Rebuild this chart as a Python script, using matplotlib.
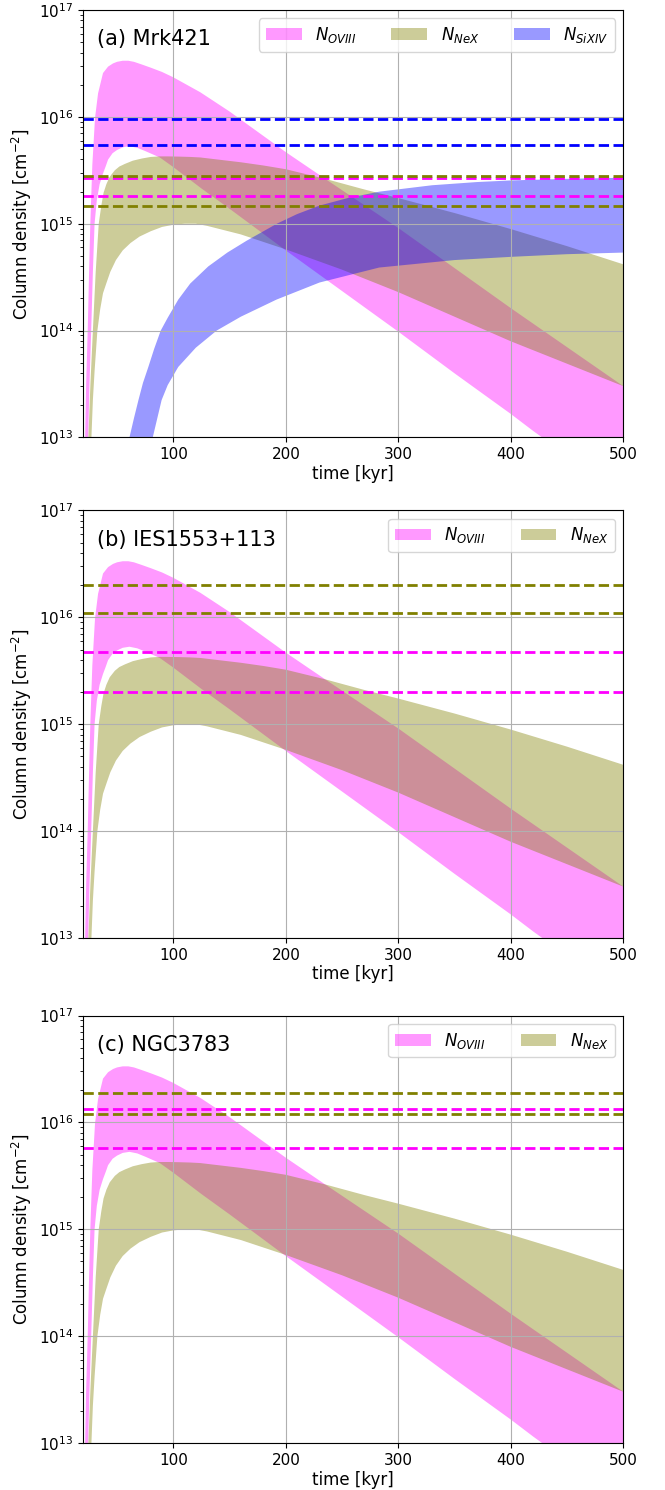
import numpy as np
import matplotlib
matplotlib.use('Agg')
import matplotlib.pyplot as plt

# band edges (time in kyr, log10 column density)
ov_hi_t = [21.0, 21.6, 22.5, 23.9, 25.0, 26.2, 28.0, 30.4, 33.1, 37.5, 42, 46.4, 50, 55,
           60, 65, 72, 80, 90, 100, 112, 124, 137, 150, 175, 200, 235, 300, 400, 500]
ov_hi = [12.9, 13.0, 13.5, 14.0, 14.5, 15.0, 15.55, 15.99, 16.22, 16.41, 16.47, 16.5,
         16.515, 16.525, 16.525, 16.515, 16.49, 16.46, 16.42, 16.37, 16.30, 16.23, 16.14,
         16.05, 15.86, 15.67, 15.42, 14.96, 14.21, 13.48]
ov_lo_t = [24.0, 24.3, 25.5, 27.0, 28.5, 30.0, 32.0, 34.5, 37.5, 40.0, 42.0, 46.0, 50.0,
           55.0, 61.0, 68.0, 75.0, 88.0, 100, 125, 150, 200, 250, 300, 350, 400, 420, 500]
ov_lo = [12.9, 13.0, 13.5, 14.0, 14.55, 15.0, 15.22, 15.37, 15.47, 15.54, 15.6, 15.66,
         15.69, 15.715, 15.725, 15.71, 15.68, 15.62, 15.53, 15.33, 15.14, 14.75, 14.37,
         13.99, 13.6, 13.22, 13.06, 12.45]

ne_hi_t = [24.2, 24.5, 26.3, 28.5, 31.0, 33.7, 36.0, 38.0, 40.5, 43.5, 48, 52, 57, 64,
           72, 80, 88, 95, 105, 115, 124, 140, 160, 180, 200, 235, 270, 300, 350, 400,
           450, 500]
ne_hi = [12.9, 13.0, 13.5, 14.0, 14.55, 15.0, 15.17, 15.29, 15.37, 15.44, 15.5, 15.535,
         15.56, 15.59, 15.61, 15.625, 15.63, 15.63, 15.628, 15.625, 15.62, 15.60, 15.575,
         15.545, 15.51, 15.42, 15.32, 15.24, 15.1, 14.95, 14.79, 14.62]
ne_lo_t = [26.8, 27.2, 28.5, 30.0, 32.5, 35.0, 37.5, 40.7, 44, 49, 55, 62, 70, 80, 90,
           100, 110, 120, 130, 145, 160, 180, 200, 250, 300, 350, 400, 450, 500]
ne_lo = [12.9, 13.0, 13.35, 13.62, 14.0, 14.2, 14.35, 14.45, 14.55, 14.66, 14.75, 14.82,
         14.88, 14.93, 14.97, 14.99, 15.0, 15.0, 14.98, 14.94, 14.9, 14.83, 14.76, 14.57,
         14.36, 14.13, 13.9, 13.69, 13.48]

si_hi_t = [60.5, 61, 65, 69, 73, 77.8, 83, 88.8, 95, 104.4, 115, 131, 148, 165, 192,
           210, 230, 255, 283, 330, 370, 400, 450, 500]
si_hi = [12.95, 13.0, 13.18, 13.35, 13.51, 13.66, 13.83, 14.0, 14.12, 14.29, 14.44,
         14.6, 14.73, 14.84, 15.0, 15.09, 15.17, 15.24, 15.30, 15.36, 15.39, 15.405,
         15.42, 15.43]
si_lo_t = [81.0, 81.7, 89.6, 95, 104.4, 120, 138.5, 160, 191.7, 230, 283, 350, 400,
           450, 500]
si_lo = [12.95, 13.0, 13.35, 13.49, 13.66, 13.84, 14.0, 14.13, 14.29, 14.45, 14.59,
         14.66, 14.69, 14.715, 14.73]

# observed column density ranges (dashed lines)
titles = ['(a) Mrk421', '(b) IES1553+113', '(c) NGC3783']
obs_ov = [[2.7e15, 1.8e15], [4.7e15, 2.0e15], [1.35e16, 5.75e15]]
obs_ne = [[2.8e15, 1.46e15], [2.0e16, 1.1e16], [1.88e16, 1.2e16]]
obs_si = [[9.5e15, 5.45e15], None, None]


def band(ax, t_hi, hi, t_lo, lo, color, label):
    x = np.concatenate([t_hi, t_lo[::-1]])
    y = 10 ** np.concatenate([hi, lo[::-1]])
    ax.fill(x, y, color=color, alpha=0.4, lw=0, label=label)


fig = plt.figure(figsize=(6.65, 14.9), dpi=100)
bottoms = [0.7064, 0.3705, 0.0315]
for i in range(3):
    ax = fig.add_axes([0.1253, bottoms[i], 0.812, 0.2869])
    band(ax, ov_hi_t, ov_hi, ov_lo_t, ov_lo, 'magenta', r'$N_{OVIII}$')
    for v in obs_ov[i]:
        ax.axhline(v, color='magenta', ls='--', lw=2)
    band(ax, ne_hi_t, ne_hi, ne_lo_t, ne_lo, 'olive', r'$N_{NeX}$')
    for v in obs_ne[i]:
        ax.axhline(v, color='olive', ls='--', lw=2)
    if obs_si[i] is not None:
        band(ax, si_hi_t, si_hi, si_lo_t, si_lo, 'blue', r'$N_{SiXIV}$')
        for v in obs_si[i]:
            ax.axhline(v, color='blue', ls='--', lw=2)
    ax.set_yscale('log')
    ax.set_xlim(20, 500)
    ax.set_ylim(1e13, 1e17)
    ax.grid(True)
    ax.tick_params(labelsize=11)
    ax.set_xlabel('time [kyr]', fontsize=12, labelpad=2)
    ax.set_ylabel(r'Column density [cm$^{-2}$]', fontsize=12)
    ax.text(0.025, 0.955, titles[i], transform=ax.transAxes, fontsize=15, va='top')
    ax.legend(loc='upper right', ncol=3 if obs_si[i] is not None else 2, fontsize=12,
              handlelength=2.15, columnspacing=2.1)

fig.savefig('out.png', dpi=100)
